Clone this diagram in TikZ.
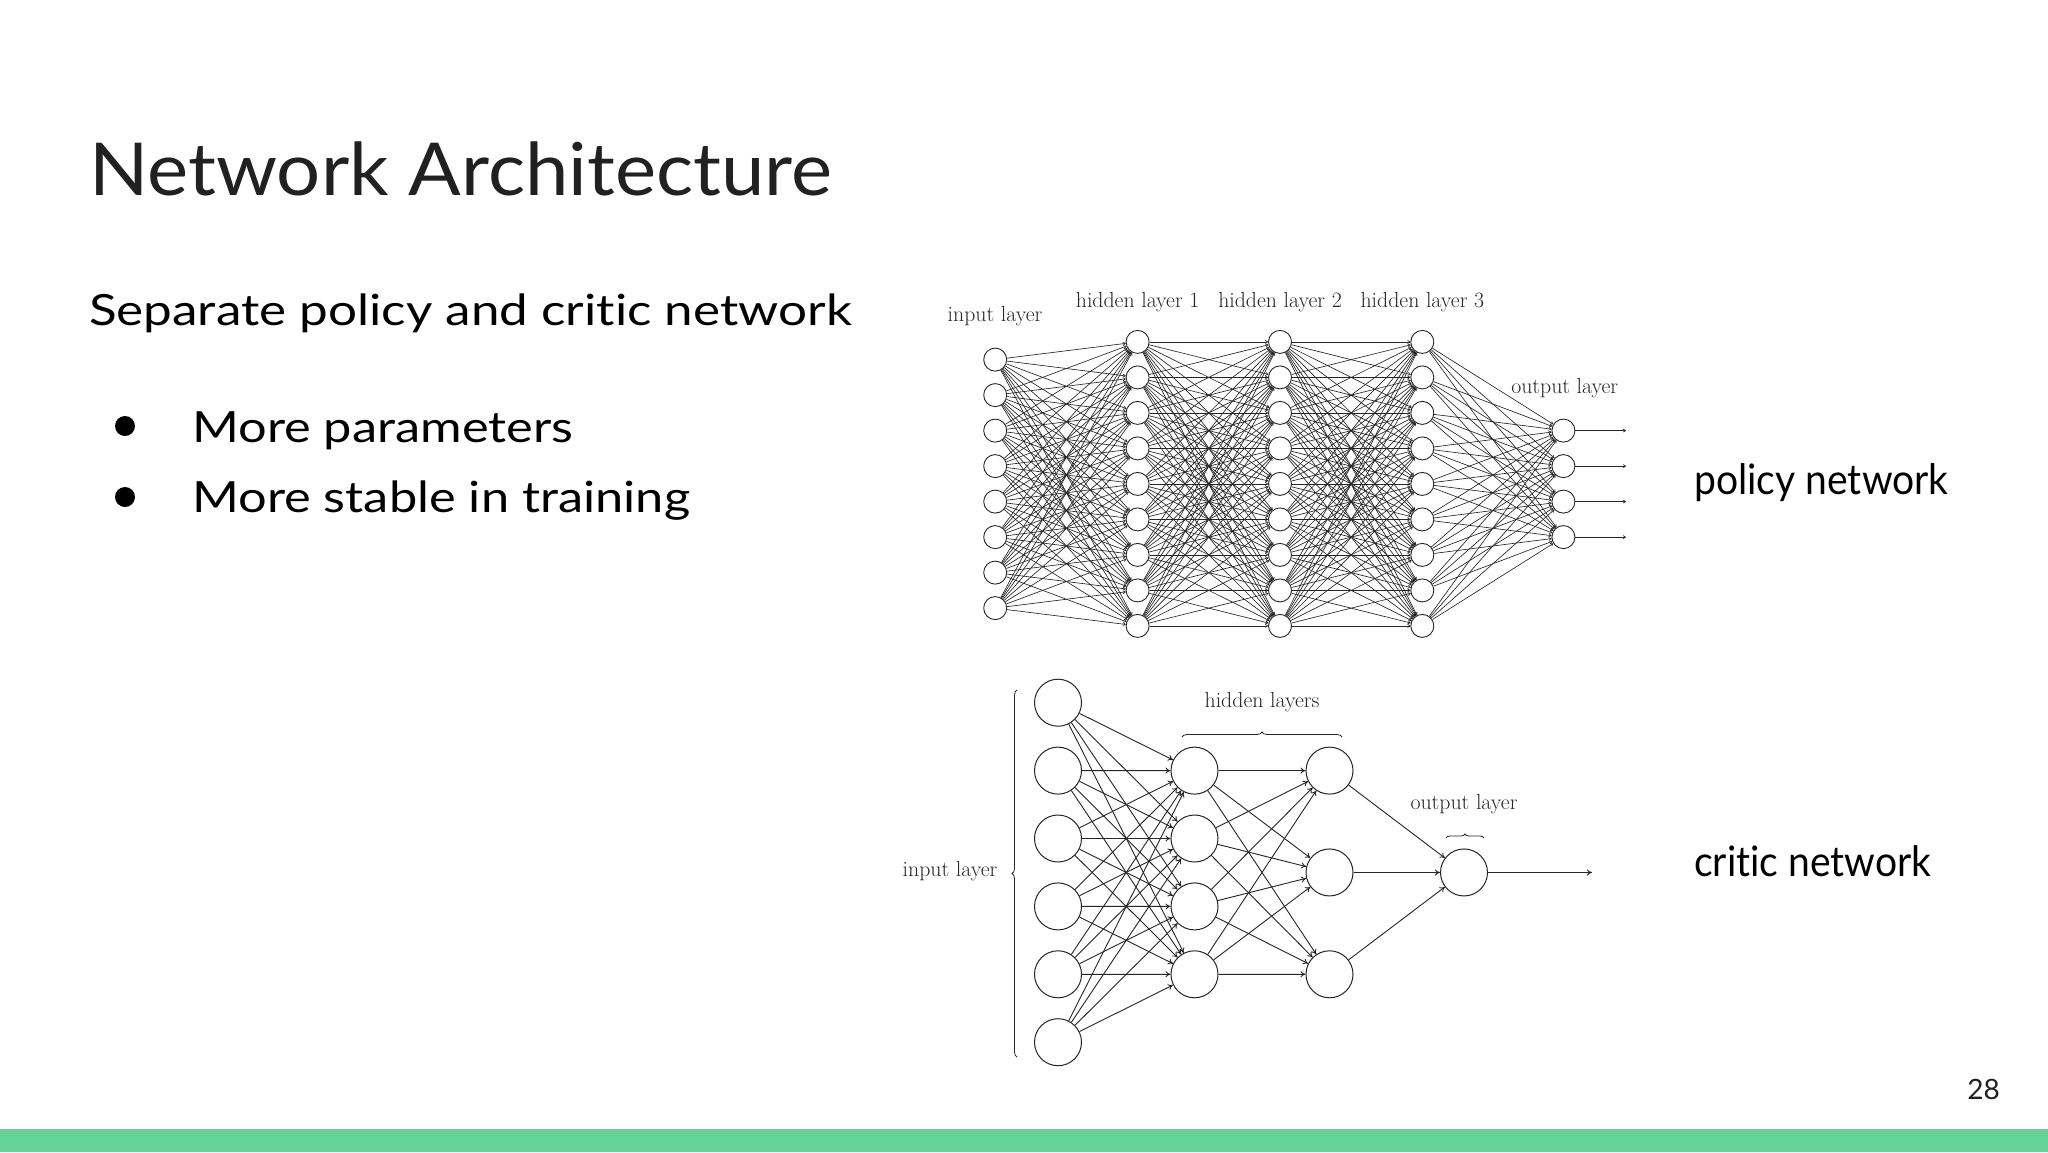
\documentclass[tikz,border=0pt]{standalone}
\usepackage{fontspec}
\newfontfamily\titlefont[FakeStretch=1.066,Ligatures=NoCommon]{Lato}
\newfontfamily\bodyfont[FakeStretch=1.19,Ligatures=NoCommon]{Lato}
\newfontfamily\bulletfont[FakeStretch=1.175,Ligatures=NoCommon]{Lato}
\newfontfamily\sidefont[FakeStretch=0.93,Ligatures=NoCommon]{Lato}
\newfontfamily\pagefont{Lato}
\usetikzlibrary{arrows.meta,decorations.pathreplacing}
\definecolor{slidegreen}{RGB}{99,211,151}
\definecolor{slideink}{RGB}{33,33,33}
\begin{document}
\begin{tikzpicture}[x=1pt,y=-1pt,
  pnode/.style={circle,draw=black!85,line width=0.9pt,minimum size=23pt,inner sep=0pt,fill=white},
  cnode/.style={circle,draw=black!85,line width=1pt,minimum size=47pt,inner sep=0pt,fill=white},
  pedge/.style={black!85,line width=0.65pt,-{To[length=3pt,width=3.5pt]}},
  cedge/.style={black!85,line width=0.9pt,-{To[length=5pt,width=6pt]}},
  lbl/.style={font=\fontsize{21.8}{24}\selectfont,text=black!85,inner sep=0pt},
  slidetext/.style={font=\bodyfont\fontsize{43}{50}\selectfont,text=black,inner sep=0pt,anchor=base west},
  bullettext/.style={slidetext,font=\bulletfont\fontsize{43}{50}\selectfont},
  bulletdot/.style={circle,fill=black,minimum size=20pt,inner sep=0pt},
  bracedec/.style={decorate,decoration={brace,amplitude=#1},black!85,line width=0.8pt},
]
\useasboundingbox (0,0) rectangle (2048,1152);
\fill[white] (0,0) rectangle (2048,1152);
\fill[slidegreen] (0,1129) rectangle (2048,1152);

% slide texts
\node[slidetext,font=\titlefont\fontsize{73}{88}\selectfont,text=slideink] (title) at (89,195.5) {Network Architecture};
\node[slidetext] (sub) at (89,325) {Separate policy and critic network};
\node[bulletdot] (b1) at (125,426) {};
\node[bulletdot] (b2) at (125,497) {};
\node[bullettext] (t1) at (192,442) {More parameters};
\node[bullettext] (t2) at (192,512) {More stable in training};
\node[slidetext,font=\sidefont\fontsize{42}{50}\selectfont] (pol) at (1694,494) {policy network};
\node[slidetext,font=\sidefont\fontsize{42}{50}\selectfont] (cri) at (1694,876) {critic network};
\node[slidetext,anchor=base east,font=\pagefont\fontsize{28}{32}\selectfont,text=slideink] (pg) at (2000,1099) {28};

% ---------- policy network ----------
\foreach \i in {1,...,8} \node[pnode] (I\i) at (995.2,{359.6+(\i-1)*35.5}) {};
\foreach \i in {1,...,9} {
  \node[pnode] (A\i) at (1137.6,{341.9+(\i-1)*35.5}) {};
  \node[pnode] (B\i) at (1280,{341.9+(\i-1)*35.5}) {};
  \node[pnode] (C\i) at (1422.3,{341.9+(\i-1)*35.5}) {};
}
\foreach \i in {1,...,4} {
  \node[pnode] (O\i) at (1563.4,{430.6+(\i-1)*35.5}) {};
  \coordinate (OE\i) at (1626,{430.6+(\i-1)*35.5});
}
\foreach \i in {1,...,8} \foreach \j in {1,...,9} \draw[pedge] (I\i) -- (A\j);
\foreach \i in {1,...,9} \foreach \j in {1,...,9} {
  \draw[pedge] (A\i) -- (B\j);
  \draw[pedge] (B\i) -- (C\j);
}
\foreach \i in {1,...,9} \foreach \j in {1,...,4} \draw[pedge] (C\i) -- (O\j);
\foreach \i in {1,...,4} \draw[pedge] (O\i) -- (OE\i);

\node[lbl] (lin) at (995,316) {input layer};
\node[lbl] (lh1) at (1137.6,302) {hidden layer 1};
\node[lbl] (lh2) at (1280,302) {hidden layer 2};
\node[lbl] (lh3) at (1422.3,302) {hidden layer 3};
\node[lbl] (lout) at (1564.7,388) {output layer};

% ---------- critic network ----------
\foreach \i in {1,...,6} \node[cnode] (X\i) at (1058,{702.7+(\i-1)*67.9}) {};
\foreach \i in {1,...,4} \node[cnode] (H\i) at (1194.5,{770.6+(\i-1)*67.9}) {};
\foreach \i in {1,...,3} \node[cnode] (K\i) at (1329.5,{770.6+(\i-1)*101.85}) {};
\node[cnode] (Y) at (1464,872.45) {};
\coordinate (YE) at (1592,872.45);
\foreach \i in {1,...,6} \foreach \j in {1,...,4} \draw[cedge] (X\i) -- (H\j);
\foreach \i in {1,...,4} \foreach \j in {1,...,3} \draw[cedge] (H\i) -- (K\j);
\foreach \i in {1,...,3} \draw[cedge] (K\i) -- (Y);
\draw[cedge] (Y) -- (YE);

\draw[bracedec=5pt] (1017,1057) -- (1017,690);
\draw[bracedec=5pt] (1182,737) -- (1342,737);
\draw[bracedec=4pt] (1446,838) -- (1484,838);
\node[lbl] (cin) at (950,871) {input layer};
\node[lbl] (chid) at (1262,702) {hidden layers};
\node[lbl] (cout) at (1464,804) {output layer};
\end{tikzpicture}
\end{document}
